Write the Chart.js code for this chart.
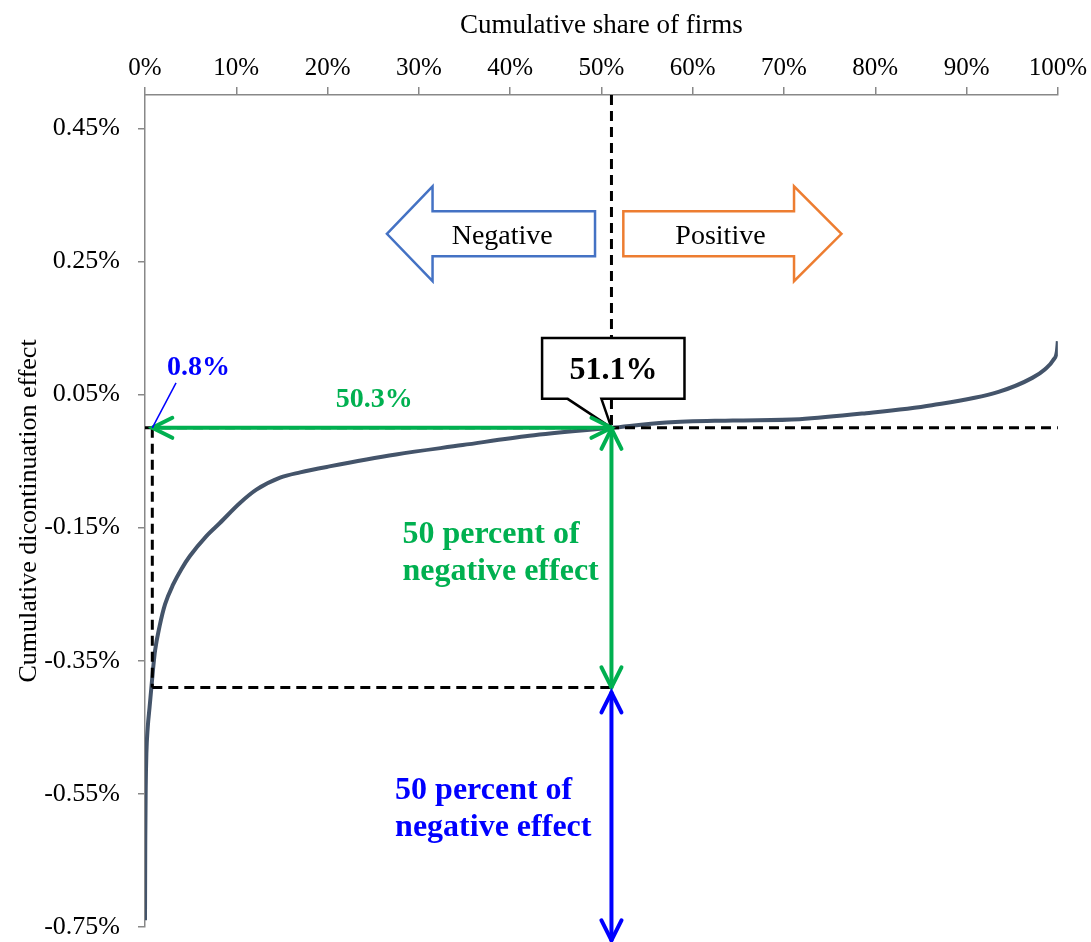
<!DOCTYPE html>
<html><head><meta charset="utf-8">
<script src="https://cdn.jsdelivr.net/npm/chart.js@4.4.0/dist/chart.umd.min.js"></script>
<style>html,body{margin:0;padding:0;background:#fff;overflow:hidden}</style>
</head><body>
<canvas id="c" width="1091" height="942" style="width:1091px;height:942px;display:block"></canvas>
<script>
// ---- data ----
const shareOfFirms = [0, 0.03, 0.08, 0.15, 0.3, 0.5, 0.7, 0.9, 1.1, 1.6, 2.2, 3.1, 4.0, 4.9, 6.7, 8.2, 10.4, 12.2, 14.8, 17.0, 20.2, 27.5, 34.8, 42.1, 51.1, 57.1, 64.4, 71.7, 79.0, 86.2, 93.5, 97.2, 98.6, 99.5, 99.9, 100];
const cumulativeEffect = [-0.74, -0.62, -0.54, -0.49, -0.45, -0.42, -0.39, -0.36, -0.335, -0.298, -0.265, -0.235, -0.212, -0.193, -0.163, -0.143, -0.113, -0.093, -0.075, -0.067, -0.058, -0.040, -0.026, -0.012, 0.0, 0.008, 0.011, 0.013, 0.022, 0.034, 0.054, 0.075, 0.088, 0.102, 0.115, 0.13];
const xTickValues = [0, 10, 20, 30, 40, 50, 60, 70, 80, 90, 100];
const yTickValues = [-0.75, -0.55, -0.35, -0.15, 0.05, 0.25, 0.45];
const xTitle = 'Cumulative share of firms';
const yTitle = 'Cumulative dicontinuation effect';

// annotation values
const medianShare = 51.1;
const medianLabel = '51.1%';
const halfShare = 0.8;
const halfShareLabel = '0.8%';
const halfEffect = -0.39;
const spanLabel = '50.3%';
const halfTextLines = ['50 percent of', 'negative effect'];
const blueArrowEnd = -0.77;
const negLabel = 'Negative';
const posLabel = 'Positive';

const SERIF = '"Liberation Serif", "Times New Roman", serif';

const pts = shareOfFirms.map((v, i) => ({x: v, y: cumulativeEffect[i]}));

const annot = {
  id: 'annot',
  afterDatasetsDraw(chart) {
    const {ctx, chartArea} = chart;
    const xs = chart.scales.x, ys = chart.scales.y;
    const X = v => xs.getPixelForValue(v), Y = v => ys.getPixelForValue(v);
    const seg = (x1, y1, x2, y2) => { ctx.beginPath(); ctx.moveTo(x1, y1); ctx.lineTo(x2, y2); ctx.stroke(); };
    const head = (tx, ty, dx, dy) => {
      const L = 20, H = 10;
      const bx = tx - dx * L, by = ty - dy * L, px = -dy, py = dx;
      ctx.beginPath(); ctx.moveTo(bx + px * H, by + py * H); ctx.lineTo(tx, ty); ctx.lineTo(bx - px * H, by - py * H); ctx.stroke();
    };
    ctx.save();
    // dashed reference lines
    ctx.strokeStyle = '#000'; ctx.lineWidth = 3; ctx.setLineDash([10, 6]);
    seg(X(medianShare), chartArea.top, X(medianShare), Y(0));
    seg(X(0), Y(0), X(100), Y(0));
    seg(X(halfShare), Y(0), X(halfShare), Y(halfEffect));
    seg(X(halfShare), Y(halfEffect), X(medianShare), Y(halfEffect));
    ctx.setLineDash([]);

    // block arrows
    const cy = Y(0.2915), bh = Y(0.2915) - Y(0.2915 + 0.03375), hh = Y(0.2915) - Y(0.2915 + 0.07125);
    ctx.lineWidth = 2.5; ctx.lineJoin = 'miter';
    ctx.beginPath();
    ctx.moveTo(X(26.5), cy); ctx.lineTo(X(31.5), cy - hh); ctx.lineTo(X(31.5), cy - bh);
    ctx.lineTo(X(49.3), cy - bh); ctx.lineTo(X(49.3), cy + bh); ctx.lineTo(X(31.5), cy + bh);
    ctx.lineTo(X(31.5), cy + hh); ctx.closePath();
    ctx.fillStyle = '#fff'; ctx.fill(); ctx.strokeStyle = '#4472C4'; ctx.stroke();
    ctx.beginPath();
    ctx.moveTo(X(76.3), cy); ctx.lineTo(X(71.1), cy - hh); ctx.lineTo(X(71.1), cy - bh);
    ctx.lineTo(X(52.4), cy - bh); ctx.lineTo(X(52.4), cy + bh); ctx.lineTo(X(71.1), cy + bh);
    ctx.lineTo(X(71.1), cy + hh); ctx.closePath();
    ctx.fill(); ctx.strokeStyle = '#ED7D31'; ctx.stroke();
    ctx.fillStyle = '#000'; ctx.font = '28px ' + SERIF; ctx.textBaseline = 'alphabetic'; ctx.textAlign = 'left';
    ctx.fillText(negLabel, X(33.6), Y(0.276));
    ctx.fillText(posLabel, X(58.1), Y(0.276));

    // callout box
    ctx.beginPath();
    ctx.moveTo(X(43.5), Y(0.135)); ctx.lineTo(X(59.1), Y(0.135)); ctx.lineTo(X(59.1), Y(0.0435));
    ctx.lineTo(X(50.0), Y(0.0435)); ctx.lineTo(X(medianShare), Y(0)); ctx.lineTo(X(46.3), Y(0.0435));
    ctx.lineTo(X(43.5), Y(0.0435)); ctx.closePath();
    ctx.fillStyle = '#fff'; ctx.fill(); ctx.strokeStyle = '#000'; ctx.lineWidth = 2.5; ctx.stroke();
    ctx.fillStyle = '#000'; ctx.font = 'bold 32px ' + SERIF;
    ctx.fillText(medianLabel, X(46.5), Y(0.0735));

    // green arrows
    ctx.strokeStyle = '#00B050'; ctx.lineWidth = 4; ctx.lineCap = 'round';
    seg(X(halfShare), Y(0), X(medianShare), Y(0));
    head(X(halfShare), Y(0), -1, 0); head(X(medianShare), Y(0), 1, 0);
    seg(X(medianShare), Y(0), X(medianShare), Y(halfEffect));
    head(X(medianShare), Y(0) + 1, 0, -1); head(X(medianShare), Y(halfEffect), 0, 1);
    // blue arrow
    ctx.strokeStyle = '#0000FF';
    seg(X(medianShare), Y(halfEffect) + 5, X(medianShare), Y(blueArrowEnd));
    head(X(medianShare), Y(halfEffect) + 5, 0, -1); head(X(medianShare), Y(blueArrowEnd), 0, 1);
    // blue leader line
    ctx.lineWidth = 1.5; ctx.lineCap = 'butt';
    seg(X(halfShare), Y(0), X(3.4), Y(0.0675));

    // texts
    ctx.font = 'bold 28px ' + SERIF;
    ctx.fillStyle = '#0000FF'; ctx.fillText(halfShareLabel, X(2.4), Y(0.0795));
    ctx.fillStyle = '#00B050'; ctx.fillText(spanLabel, X(20.9), Y(0.0315));
    ctx.font = 'bold 32px ' + SERIF;
    ctx.fillText(halfTextLines[0], X(28.2), Y(-0.1725));
    ctx.fillText(halfTextLines[1], X(28.2), Y(-0.228));
    ctx.fillStyle = '#0000FF';
    ctx.fillText(halfTextLines[0], X(27.4), Y(-0.558));
    ctx.fillText(halfTextLines[1], X(27.4), Y(-0.613));
    ctx.restore();
  }
};

new Chart(document.getElementById('c'), {
  type: 'scatter',
  data: {
    datasets: [{
      data: pts,
      showLine: true,
      borderColor: '#44546A',
      borderWidth: 4,
      pointRadius: 0,
      cubicInterpolationMode: 'monotone',
      fill: false
    }]
  },
  options: {
    responsive: false,
    animation: false,
    devicePixelRatio: 1,
    layout: {padding: {left: 0, right: 3, top: 0, bottom: 15}},
    plugins: {legend: {display: false}, tooltip: {enabled: false}},
    scales: {
      x: {
        type: 'linear', position: 'top', min: 0, max: 100,
        afterBuildTicks: s => { s.ticks = xTickValues.map(v => ({value: v})); },
        afterFit: s => { s.height = 95; },
        ticks: {callback: v => v + '%', color: '#000', font: {family: SERIF, size: 25}, padding: 4, maxRotation: 0, autoSkip: false},
        grid: {drawOnChartArea: false, drawTicks: true, tickLength: 8, color: '#888', lineWidth: 1.5},
        border: {display: true, color: '#888', width: 1.5},
        title: {display: true, text: xTitle, color: '#000', font: {family: SERIF, size: 27}, padding: {top: 10, bottom: 0}}
      },
      y: {
        type: 'linear', min: -0.75, max: 0.5,
        afterBuildTicks: s => { s.ticks = yTickValues.map(v => ({value: v})); },
        afterFit: s => { s.width = 145; s.paddingTop = 0; s.paddingBottom = 0; },
        ticks: {callback: v => v.toFixed(2) + '%', color: '#000', font: {family: SERIF, size: 26}, padding: 18, autoSkip: false},
        grid: {drawOnChartArea: false, drawTicks: true, tickLength: 7, color: '#888', lineWidth: 1.5},
        border: {display: true, color: '#888', width: 1.5},
        title: {display: true, text: yTitle, color: '#000', font: {family: SERIF, size: 26}, padding: {top: 14, bottom: 0}}
      }
    }
  },
  plugins: [annot]
});
</script>
</body></html>
